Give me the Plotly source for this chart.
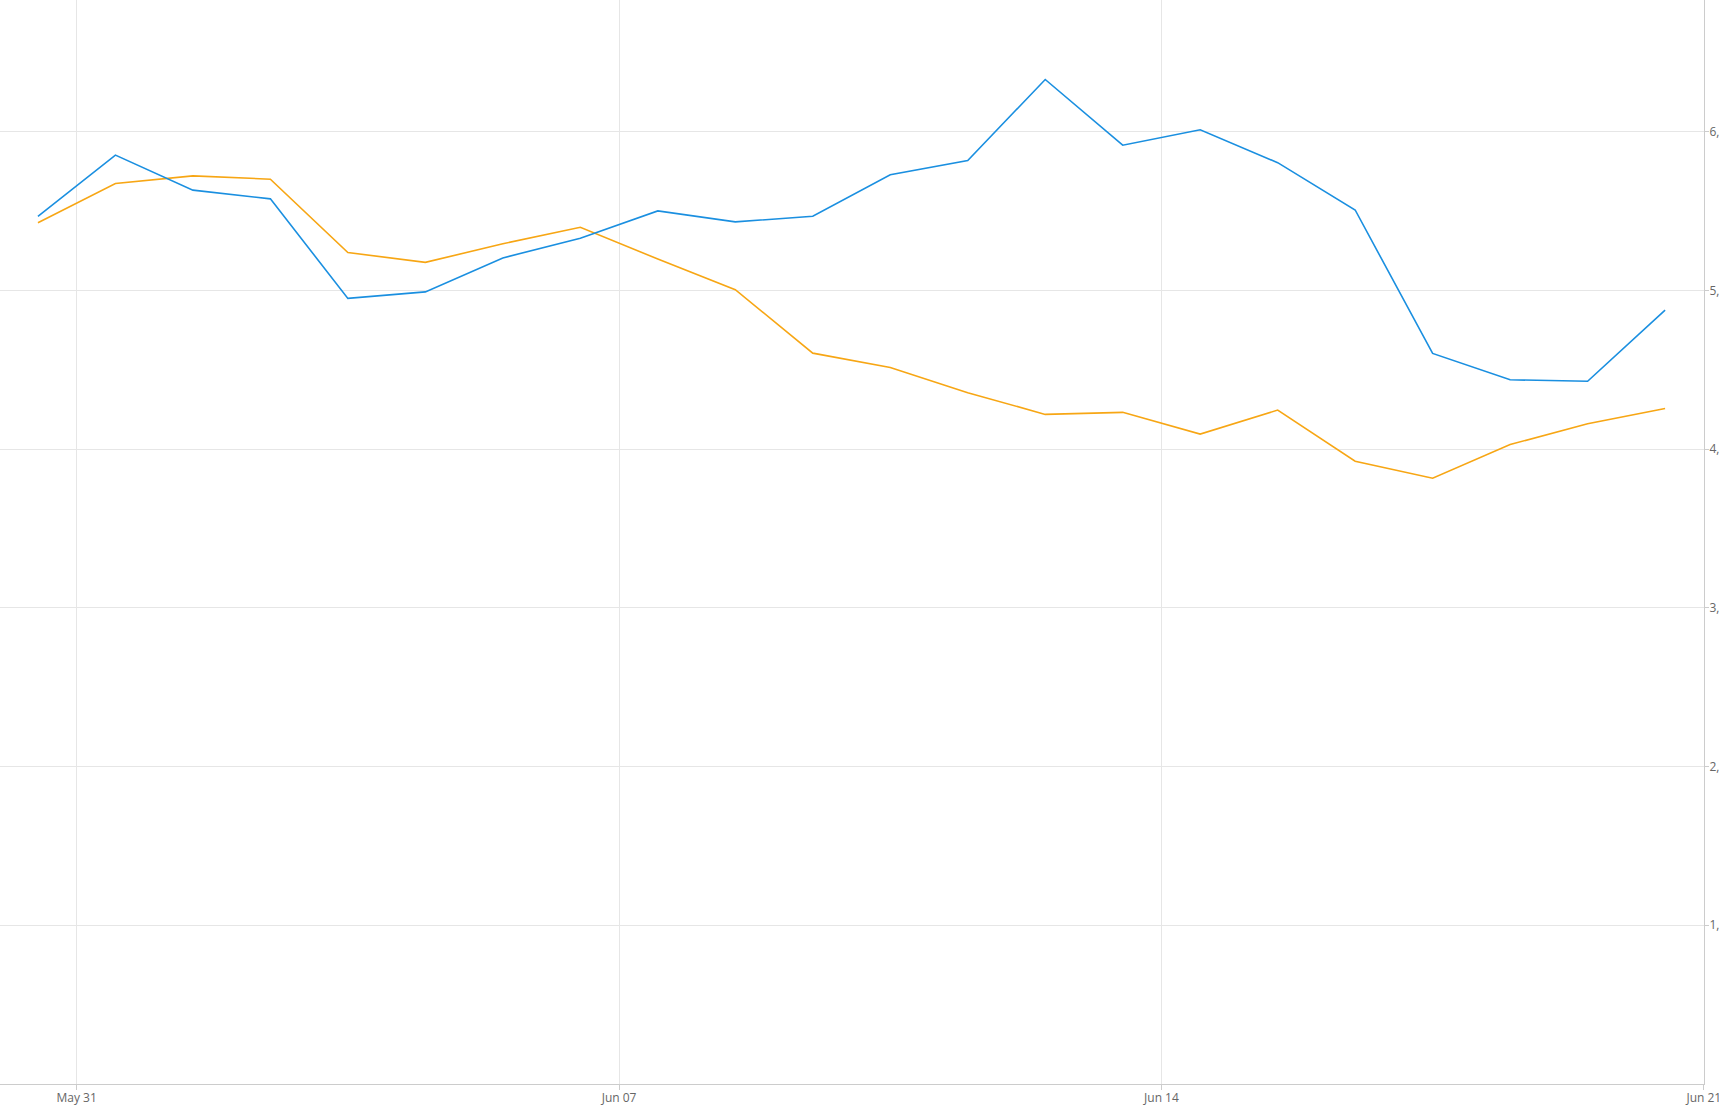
import plotly.graph_objects as go
import pandas as pd

dates = pd.date_range("2020-05-30 12:00", periods=22, freq="D")
series_blue = [5467, 5853, 5632, 5577, 4950, 4991, 5205, 5329, 5501, 5432, 5467,
               5729, 5819, 6329, 5915, 6012, 5805, 5507, 4603, 4437, 4428, 4876]
series_orange = [5426, 5674, 5722, 5701, 5239, 5177, 5294, 5398, 5198, 5005, 4605,
                 4515, 4356, 4219, 4232, 4095, 4246, 3924, 3817, 4029, 4160, 4256]
y_ticks = [1000, 2000, 3000, 4000, 5000, 6000]

fig = go.Figure()
fig.add_trace(go.Scatter(x=dates, y=series_orange, mode="lines",
                         line=dict(color="#f7a614", width=1.6), showlegend=False))
fig.add_trace(go.Scatter(x=dates, y=series_blue, mode="lines",
                         line=dict(color="#1a8fe0", width=1.6), showlegend=False))

fig.update_layout(
    width=1719, height=1119,
    margin=dict(l=0, r=15, t=0, b=35),
    paper_bgcolor="white", plot_bgcolor="white",
    font=dict(family="Open Sans, sans-serif", size=12, color="#666666"),
    xaxis=dict(
        range=["2020-05-30 00:15", "2020-06-21 00:03"],
        tick0="2020-05-31", dtick=7 * 86400000, tickformat="%b %d",
        showgrid=True, gridcolor="#e6e6e6", gridwidth=1,
        showline=True, linecolor="#cccccc", linewidth=1,
        ticks="outside", ticklen=5, tickcolor="#cccccc",
        zeroline=False, automargin=False, ticklabeloverflow="allow",
        ticklabelstandoff=-2,
        tickfont=dict(size=12, color="#666666"),
    ),
    yaxis=dict(
        side="right", range=[0, 6830],
        tickvals=y_ticks, tickformat=",",
        showgrid=True, gridcolor="#e6e6e6", gridwidth=1,
        showline=True, linecolor="#cccccc", linewidth=1,
        ticks="outside", ticklen=4, tickcolor="#cccccc",
        zeroline=False, automargin=False, ticklabeloverflow="allow",
        ticklabelstandoff=-2,
        tickfont=dict(size=12, color="#666666"),
    ),
)

fig.write_html("out.html", config={"displayModeBar": False},
               post_script="document.body.style.margin='0';document.body.style.overflow='hidden';")
